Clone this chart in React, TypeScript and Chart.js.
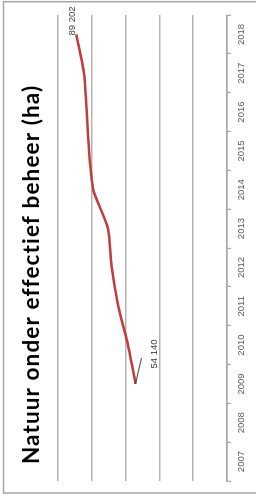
import React, { useEffect, useRef } from "react";
import { Chart, registerables } from "chart.js";

Chart.register(...registerables);

const years = ["2007", "2008", "2009", "2010", "2011", "2012", "2013", "2014", "2015", "2016", "2017", "2018"];
const hectares: (number | null)[] = [null, null, 54140, 58580, 64320, 68220, 70410, 79110, 81660, 83020, 84620, 89202];
const valueMin = 0;
const valueMax = 100000;
const valueStep = 20000;
const labelledYears = ["2009", "2018"];
const titleText = "Natuur onder effectief beheer (ha)";

const W = 497;
const H = 256;

function fmt(v: number) {
  return String(v).replace(/\B(?=(\d{3})+(?!\d))/g, " ");
}

export default function App() {
  const ref = useRef<HTMLCanvasElement>(null);

  useEffect(() => {
    if (!ref.current) return;

    const frame = {
      id: "frame",
      beforeDraw(chart: any) {
        const ctx = chart.ctx;
        ctx.save();
        ctx.fillStyle = "#ffffff";
        ctx.fillRect(0, 0, W, H);
        ctx.strokeStyle = "#a6a6a6";
        ctx.lineWidth = 1.5;
        ctx.strokeRect(4, 3.5, 491.3, 300);
        ctx.restore();
      },
    };

    const rotTitle = {
      id: "rotTitle",
      afterDraw(chart: any) {
        const ctx = chart.ctx;
        ctx.save();
        ctx.font = "bold 22.5px Lato";
        const w = ctx.measureText(titleText).width;
        const spacing = Math.max(0, Math.min(2.5, (378 - w) / (titleText.length - 1)));
        (ctx as any).letterSpacing = `${spacing.toFixed(2)}px`;
        ctx.fillStyle = "#000000";
        ctx.textAlign = "center";
        ctx.textBaseline = "middle";
        ctx.fillText(titleText, 222 + spacing / 2, 32);
        ctx.restore();
      },
    };

    const pointLabels = {
      id: "pointLabels",
      afterDatasetsDraw(chart: any) {
        const meta = chart.getDatasetMeta(0);
        const ctx = chart.ctx;
        ctx.save();
        ctx.font = '9.5px "Liberation Sans"';
        ctx.fillStyle = "#404040";
        ctx.strokeStyle = "#404040";
        ctx.lineWidth = 1;
        years.forEach((yr, i) => {
          const v = hectares[i];
          if (!labelledYears.includes(yr) || v == null) return;
          const pt = meta.data[i];
          const text = fmt(v);
          if (i === years.length - 1) {
            ctx.textAlign = "left";
            ctx.textBaseline = "middle";
            ctx.fillText(text, pt.x - 1, pt.y - 4);
          } else {
            ctx.beginPath();
            ctx.moveTo(pt.x, pt.y);
            ctx.lineTo(pt.x + 26, pt.y + 6);
            ctx.stroke();
            ctx.textAlign = "center";
            ctx.textBaseline = "middle";
            ctx.fillText(text, pt.x + 30, pt.y + 18.5);
          }
        });
        ctx.restore();
      },
    };

    const chart = new Chart(ref.current, {
      type: "line",
      data: {
        labels: years,
        datasets: [
          {
            data: hectares,
            borderColor: "#c43c3c",
            borderWidth: 2.5,
            pointRadius: 0,
            tension: 0.2,
            fill: false,
            spanGaps: false,
          },
        ],
      },
      options: {
        animation: false,
        responsive: false,
        devicePixelRatio: 1,
        layout: { padding: { left: 16, right: 15, top: 58, bottom: 0 } },
        plugins: {
          legend: { display: false },
          title: { display: false },
          tooltip: { enabled: false },
        },
        scales: {
          x: {
            type: "category",
            offset: true,
            grid: {
              offset: true,
              drawOnChartArea: false,
              drawTicks: true,
              tickLength: 4,
              color: "#a6a6a6",
              lineWidth: 1.2,
            },
            border: { display: true, color: "#a6a6a6", width: 1.5 },
            ticks: {
              color: "#595959",
              font: { family: "Liberation Sans", size: 9.5 },
              padding: 5,
              maxRotation: 0,
              minRotation: 0,
              autoSkip: false,
            },
            afterFit(s: any) {
              s.height = H - 227;
            },
          },
          y: {
            min: valueMin,
            max: valueMax,
            ticks: { display: false, stepSize: valueStep },
            grid: { color: "#b3b3b3", lineWidth: 1.5, drawTicks: false },
            border: { display: false },
            afterFit(s: any) {
              s.width = 0;
            },
          },
        },
      },
      plugins: [frame, rotTitle, pointLabels],
    } as any);

    return () => chart.destroy();
  }, []);

  return (
    <div
      style={{
        position: "fixed",
        left: 0,
        top: 0,
        width: 256,
        height: 497,
        overflow: "hidden",
        background: "#ffffff",
      }}
    >
      <div
        style={{
          position: "absolute",
          left: 0,
          top: 0,
          width: W,
          height: H,
          transformOrigin: "0 0",
          transform: `translateY(${W}px) rotate(-90deg)`,
        }}
      >
        <canvas ref={ref} width={W} height={H} style={{ display: "block", width: W, height: H }} />
      </div>
    </div>
  );
}
